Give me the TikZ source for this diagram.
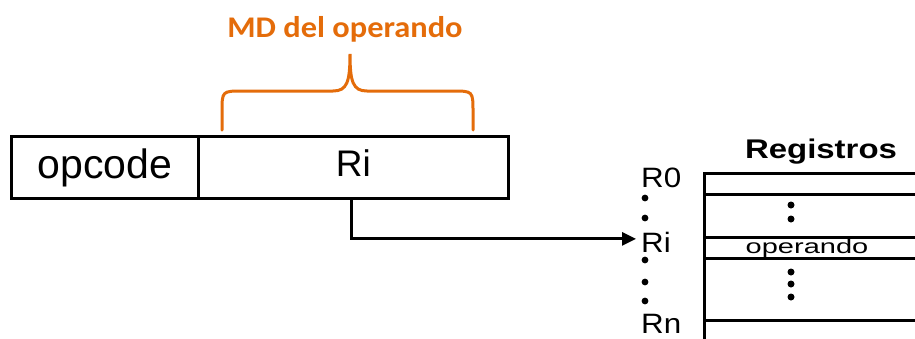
\documentclass[tikz,border=0pt]{standalone}
\usepackage{fontspec}
\setmainfont{Liberation Sans}
\newfontfamily\calib{Carlito}
\usetikzlibrary{arrows.meta,calc}
\definecolor{accent}{HTML}{E46C0A}
\newcommand\fsz[1]{\fontsize{#1pt}{#1pt}\selectfont}
\begin{document}
\begin{tikzpicture}[x=1pt,y=-1pt,
  field/.style={draw, line width=2.8pt, minimum height=62pt, inner sep=0pt, anchor=north west},
  regrow/.style={draw, line width=2.6pt, minimum width=240pt, inner sep=0pt, anchor=north west},
  reglbl/.style={inner sep=0pt, anchor=base west, font=\fsz{28}},
  conn/.style={line width=2.8pt, -{Triangle[length=14pt,width=13pt]}},
  brace/.style={draw=accent, line width=3pt, line cap=round},
  dot/.style={fill=black}
]
\useasboundingbox (0,0) rectangle (915,338);

% instruction format
\node[field, minimum width=187pt, font=\fsz{41}] (opc) at (10,135) {opcode};
\node[field, minimum width=310pt, font=\fsz{37}, text depth=8pt] (ri) at (197,135) {Ri};

% addressing-mode label with brace
\node[anchor=base, text=accent, font=\calib\bfseries\fsz{30}] (md) at (345,37) {\scalebox{1.08}[1]{MD del operando}};
\draw[brace] (222,130) -- (222,112) .. controls (222,91) .. (243,91) -- (333,91)
  .. controls (347,91) and (350,82) .. (350,54)
  .. controls (350,82) and (353,91) .. (367,91) -- (452,91)
  .. controls (473,91) .. (473,112) -- (473,130);

% register file
\node[anchor=base, font=\bfseries\fsz{27}] (hdr) at (821,158) {\scalebox{1.22}[1]{Registros}};
\begin{scope}
  \clip (0,0) rectangle (915,338);
  \node[regrow, minimum height=21pt] (row0) at (703,172) {};
  \node[regrow, minimum height=43pt] (rowa) at (703,193) {};
  \node[regrow, minimum height=21pt] (rowi) at (703,236) {};
  \node[regrow, minimum height=62pt] (rowb) at (703,257) {};
  \node[regrow, minimum height=50pt] (rown) at (703,319) {};
\end{scope}
\node[anchor=base, inner sep=0pt, font=\fsz{20}] (opd) at (807,253) {\scalebox{1.45}[1]{operando}};
\foreach \y in {205,219,272,284,297} \fill[dot] (791,\y) circle[radius=3.5pt];

% register names
\node[reglbl] (l0) at (641,187) {\scalebox{1.12}[1]{R0}};
\node[reglbl] (lri) at (641,252) {\scalebox{1.12}[1]{Ri}};
\node[reglbl] (ln) at (641,333) {\scalebox{1.12}[1]{Rn}};
\foreach \y in {198,218,260,282,301} \fill[dot] (645,\y) circle[radius=3.4pt];

% register selection
\draw[conn] ([xshift=-2pt]ri.south) |- ([xshift=-5pt,yshift=3pt]lri.west);
\end{tikzpicture}
\end{document}
